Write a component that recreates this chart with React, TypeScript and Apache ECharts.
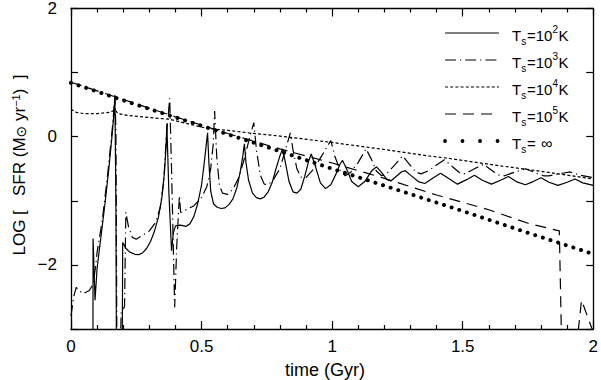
import React, { useEffect, useRef } from 'react';
import * as echarts from 'echarts';

// ---- data (time in Gyr, LOG SFR) ----
const sfrT1e2: [number, number][] = [
  [0.084, -3.5], [0.0845, -1.59], [0.092, -2.55], [0.1, -2.05], [0.115, -1.55], [0.13, -1.05], [0.145, -0.5],
  [0.158, 0.05], [0.165, 0.4], [0.168, 0.63], [0.172, -1.0], [0.174, -3.5], [0.196, -3.5], [0.198, -1.65],
  [0.21, -1.74], [0.225, -1.8], [0.245, -1.835], [0.26, -1.84], [0.275, -1.81], [0.29, -1.74], [0.305, -1.63],
  [0.32, -1.47], [0.335, -1.25], [0.348, -0.95], [0.358, -0.55], [0.364, -0.15], [0.367, 0.2],
  [0.375, -0.89], [0.385, -1.78], [0.392, -1.5], [0.4, -1.39], [0.42, -1.38], [0.44, -1.4], [0.455, -1.36],
  [0.47, -1.25], [0.485, -1.05], [0.5, -0.75], [0.51, -0.42], [0.518, -0.12], [0.523, 0.06],
  [0.528, -0.4], [0.535, -0.85], [0.546, -1.05], [0.56, -1.1], [0.575, -1.12], [0.59, -1.11], [0.605, -1.06],
  [0.62, -0.97], [0.635, -0.8], [0.648, -0.55], [0.658, -0.3], [0.664, -0.11],
  [0.67, -0.4], [0.68, -0.68], [0.695, -0.88], [0.71, -0.95], [0.725, -0.97], [0.74, -0.94], [0.755, -0.86],
  [0.77, -0.72], [0.785, -0.5], [0.8, -0.3], [0.81, -0.19],
  [0.82, -0.38], [0.835, -0.7], [0.85, -0.86], [0.865, -0.88], [0.88, -0.82], [0.895, -0.62], [0.91, -0.38], [0.92, -0.27],
  [0.935, -0.45], [0.955, -0.72], [0.975, -0.81], [0.995, -0.75], [1.015, -0.58], [1.03, -0.43], [1.04, -0.37],
  [1.055, -0.5], [1.075, -0.7], [1.1, -0.78], [1.125, -0.7], [1.15, -0.54], [1.17, -0.47],
  [1.19, -0.56], [1.21, -0.67], [1.225, -0.69], [1.245, -0.62], [1.265, -0.55], [1.28, -0.53],
  [1.3, -0.6], [1.33, -0.7], [1.355, -0.73], [1.385, -0.65], [1.415, -0.57],
  [1.445, -0.65], [1.48, -0.74], [1.515, -0.67], [1.545, -0.6],
  [1.575, -0.68], [1.61, -0.74], [1.645, -0.68], [1.675, -0.62],
  [1.705, -0.7], [1.74, -0.75], [1.77, -0.7], [1.8, -0.64],
  [1.83, -0.71], [1.865, -0.76], [1.9, -0.71], [1.93, -0.66], [1.96, -0.72], [2.0, -0.76],
];

const sfrT1e3: [number, number][] = [
  [0, -2.8], [0.01, -2.5], [0.02, -2.35], [0.045, -2.45], [0.07, -2.4], [0.085, -2.3], [0.095, -2.0],
  [0.1, -1.8], [0.12, -1.3], [0.14, -0.6], [0.16, 0.2], [0.168, 0.65], [0.172, 0.1], [0.176, -3.5],
  [0.188, -3.5], [0.192, -2.75], [0.205, -2.65], [0.21, -1.18], [0.22, -1.4], [0.235, -1.57], [0.25, -1.6],
  [0.27, -1.55], [0.3, -1.47], [0.325, -1.33], [0.342, -1.1], [0.355, -0.7], [0.365, 0.0], [0.378, 0.6],
  [0.385, -0.5], [0.397, -2.66], [0.405, -1.7], [0.415, -0.92], [0.42, -1.18], [0.44, -1.14], [0.47, -1.08],
  [0.5, -0.95], [0.52, -0.78], [0.535, -0.5], [0.545, -0.1], [0.55, 0.4], [0.558, -0.3], [0.568, -0.75],
  [0.58, -0.88], [0.6, -0.9], [0.62, -0.82], [0.64, -0.66], [0.66, -0.4], [0.685, 0.0], [0.7, 0.22],
  [0.71, -0.2], [0.725, -0.6], [0.74, -0.74], [0.755, -0.75], [0.775, -0.67], [0.8, -0.5], [0.825, -0.15],
  [0.84, 0.06], [0.85, -0.2], [0.865, -0.5], [0.88, -0.63], [0.9, -0.64], [0.93, -0.5], [0.96, -0.3],
  [0.995, -0.06], [1.01, -0.3], [1.03, -0.52], [1.05, -0.61], [1.07, -0.56], [1.1, -0.4], [1.13, -0.19],
  [1.15, -0.35], [1.17, -0.54], [1.19, -0.61], [1.21, -0.57], [1.24, -0.44], [1.27, -0.3], [1.3, -0.45],
  [1.32, -0.55], [1.34, -0.58], [1.37, -0.53], [1.4, -0.44], [1.43, -0.36], [1.47, -0.5], [1.49, -0.57],
  [1.51, -0.58], [1.545, -0.5], [1.58, -0.43], [1.62, -0.55], [1.64, -0.6], [1.66, -0.61], [1.7, -0.55],
  [1.74, -0.5], [1.79, -0.58], [1.81, -0.61], [1.83, -0.61], [1.87, -0.58], [1.91, -0.55], [1.95, -0.6],
  [2.0, -0.64],
];

const sfrT1e4: [number, number][] = [
  [0, 0.43], [0.02, 0.38], [0.05, 0.36], [0.1, 0.36], [0.15, 0.38], [0.168, 0.42], [0.18, 0.36],
  [0.22, 0.33], [0.3, 0.3], [0.38, 0.27], [0.45, 0.2], [0.52, 0.13], [0.6, 0.1], [0.68, 0.06], [0.8, 0.01],
  [1.0, -0.09], [1.2, -0.2], [1.37, -0.3], [1.45, -0.34], [1.6, -0.43], [1.8, -0.54], [2.0, -0.66],
];

const sfrT1e5: [number, number][] = [
  [0, 0.85], [0.2, 0.58], [0.4, 0.31], [0.6, 0.05], [0.8, -0.19], [1.0, -0.41], [1.2, -0.65], [1.4, -0.91],
  [1.6, -1.14], [1.75, -1.35], [1.87, -1.47], [1.88, -3.5], [1.93, -3.5], [1.955, -2.55], [2.0, -3.05],
];

const sfrTinf: [number, number][] = [
  [0, 0.84], [0.25, 0.5], [0.5, 0.17], [0.75, -0.16], [1.0, -0.5], [1.25, -0.83], [1.5, -1.16],
  [1.75, -1.5], [2.0, -1.83],
];

const legendExponents = ['2', '3', '4', '5', '∞'];
const yLabelValues = [2, 0, -2];

const BLACK = '#000';
const FONT = 'Liberation Sans, Arial, Helvetica, sans-serif';

export default function App() {
  const ref = useRef<HTMLDivElement>(null);

  useEffect(() => {
    if (!ref.current) return;
    const chart = echarts.init(ref.current, undefined, { renderer: 'svg' });

    const dashes: (number[] | 'solid')[] = ['solid', [11, 4, 1.2, 4], [3, 2.2], [11, 7], [0.01, 8]];
    const widths = [1.2, 1.2, 1.2, 1.2, 4];
    const datasets = [sfrT1e2, sfrT1e3, sfrT1e4, sfrT1e5, sfrTinf];

    const series = datasets.map((d, i) => ({
      type: 'line',
      data: d,
      showSymbol: false,
      symbol: 'none',
      clip: true,
      lineStyle: {
        color: BLACK,
        width: widths[i],
        type: dashes[i],
        cap: i === 4 ? 'round' : 'butt',
      },
      z: 3,
    }));

    const axisLine = { show: true, onZero: false, lineStyle: { color: BLACK, width: 1.3 } };
    const tickStyle = { color: BLACK, width: 1.2 };

    const txt = (text: string, x: number, y: number, size: number) => ({
      type: 'text', x, y, silent: true,
      style: { text, fontSize: size, fontFamily: FONT, fill: BLACK, align: 'left', verticalAlign: 'middle' },
    });

    const legendRows = legendExponents.map((e, i) => {
      const y = 33 + 27 * i;
      const ty = y + 2;
      const lineStyle: any = {
        stroke: BLACK,
        lineWidth: i === 4 ? 3.8 : widths[i],
        lineDash: i === 0 ? null : i === 4 ? [0.01, 17.5] : dashes[i],
        lineCap: i === 4 ? 'round' : 'butt',
      };
      const pieces: any[] = [
        { type: 'line', shape: { x1: 445, y1: y, x2: 499, y2: y }, style: lineStyle, silent: true },
        txt('T', 512, ty, 15),
        txt('s', 521.3, ty + 6, 10),
      ];
      if (e === '∞') {
        pieces.push(txt('=', 527, ty, 15), txt('∞', 541, ty, 16));
      } else {
        pieces.push(txt('=10', 527, ty, 15), txt(e, 552.6, ty - 6, 10), txt('K', 558.4, ty, 15));
      }
      return pieces;
    }).flat();

    const yRich = {
      n: { fontSize: 17, fontFamily: FONT, color: BLACK, lineHeight: 17, verticalAlign: 'middle' },
      s: { fontSize: 14, fontFamily: 'DejaVu Sans, sans-serif', color: BLACK, lineHeight: 14, padding: [6, 0, 0, 0], verticalAlign: 'bottom' },
      p: { fontSize: 11, fontFamily: FONT, color: BLACK, lineHeight: 11, padding: [0, 0, 12, 0], verticalAlign: 'top' },
    };

    const option: any = {
      animation: false,
      backgroundColor: '#fff',
      grid: { left: 71, right: 6, top: 7, bottom: 51, containLabel: false },
      xAxis: [
        {
          type: 'value', min: 0, max: 2, interval: 0.5, position: 'bottom',
          axisLine,
          axisTick: { show: true, inside: true, length: 8, lineStyle: tickStyle },
          minorTick: { show: true, splitNumber: 5, length: 4, lineStyle: tickStyle },
          splitLine: { show: false },
          minorSplitLine: { show: false },
          axisLabel: { color: BLACK, fontSize: 17, fontFamily: FONT, margin: 9 },
        },
        {
          type: 'value', min: 0, max: 2, interval: 0.5, position: 'top',
          axisLine,
          axisTick: { show: true, inside: true, length: 8, lineStyle: tickStyle },
          minorTick: { show: true, splitNumber: 5, length: 4, lineStyle: tickStyle },
          splitLine: { show: false },
          axisLabel: { show: false },
        },
      ],
      yAxis: [
        {
          type: 'value', min: -3, max: 2, interval: 1, position: 'left',
          axisLine,
          axisTick: { show: true, inside: true, length: 7, lineStyle: tickStyle },
          splitLine: { show: false },
          axisLabel: {
            color: BLACK, fontSize: 17, fontFamily: FONT, margin: 14,
            formatter: (v: number) => (yLabelValues.includes(v) ? (v < 0 ? '−' + Math.abs(v) : String(v)) : ''),
          },
        },
        {
          type: 'value', min: -3, max: 2, interval: 1, position: 'right',
          axisLine,
          axisTick: { show: true, inside: true, length: 7, lineStyle: tickStyle },
          splitLine: { show: false },
          axisLabel: { show: false },
        },
      ],
      series,
      graphic: [
        {
          type: 'text', x: 325, y: 370,
          style: { text: 'time (Gyr)', fontSize: 18, fontFamily: FONT, fill: BLACK, align: 'center', verticalAlign: 'middle' },
          silent: true,
        },
        {
          type: 'text', x: 19, y: 165, rotation: Math.PI / 2,
          style: {
            text: '{n|LOG [   SFR (M}{s|⊙}{n| yr}{p|−1}{n|)  ]}',
            rich: yRich, align: 'center', verticalAlign: 'middle', fill: BLACK,
          },
          silent: true,
        },
        ...legendRows,
      ],
    };

    chart.setOption(option);
    return () => chart.dispose();
  }, []);

  return <div ref={ref} style={{ width: 601, height: 380, position: 'absolute', left: 0, top: 0 }} />;
}
